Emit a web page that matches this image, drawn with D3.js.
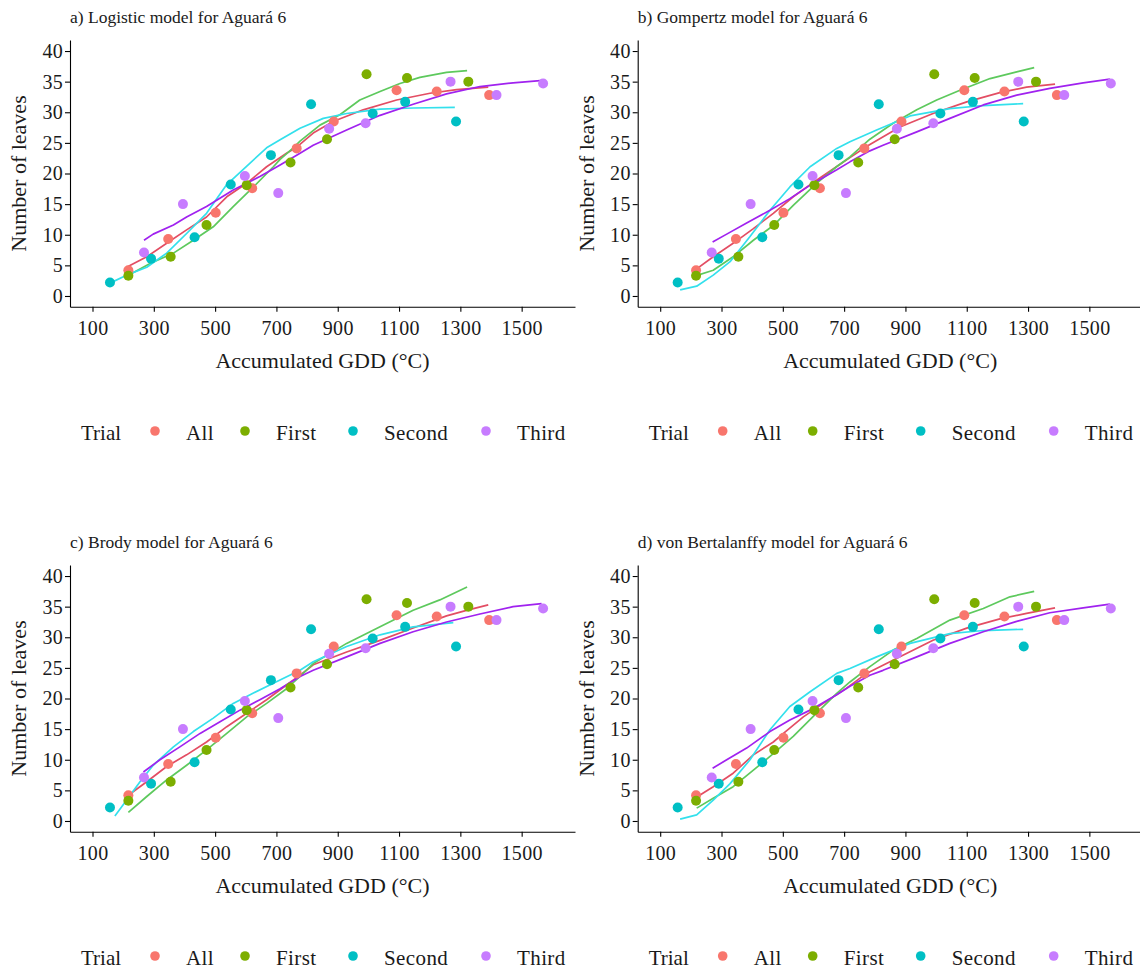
<!DOCTYPE html>
<html>
<head>
<meta charset="utf-8">
<script src="https://cdn.jsdelivr.net/npm/d3@7"></script>
<style>
  body { margin: 0; background: #fff; }
  svg text { font-family: "Liberation Serif", "Times New Roman", serif; fill: #1a1a1a; }
  .axis path, .axis line { stroke: #000; stroke-width: 1.1; }
</style>
</head>
<body>
<svg id="chart" width="1140" height="979"></svg>
<script>
const trials = ["All", "First", "Second", "Third"];
const pointColors = ["#F8766D", "#7CAE00", "#00BFC4", "#C77CFF"];
const lineColors = ["#E34D63", "#5DC95D", "#33E0EC", "#A022EF"];
const xTicks = [100, 300, 500, 700, 900, 1100, 1300, 1500];
const yTicks = [0, 5, 10, 15, 20, 25, 30, 35, 40];

// observed leaves per trial: [GDD, leaves]
const allObs = [[217, 4.2], [347, 9.3], [502, 13.6], [621, 17.6], [766, 24.1], [887, 28.5], [1092, 33.6], [1223, 33.4], [1394, 32.8]];
const firstObs = [[217, 3.3], [355, 6.4], [472, 11.6], [603, 18.1], [746, 21.8], [865, 25.6], [994, 36.2], [1126, 35.6], [1326, 35.0]];
const secondObs = [[157, 2.2], [291, 6.1], [433, 9.6], [551, 18.2], [682, 23.0], [813, 31.3], [1014, 29.8], [1120, 31.7], [1286, 28.5]];
const thirdObs = [[268, 7.1], [395, 15.0], [597, 19.6], [706, 16.8], [872, 27.3], [991, 28.2], [1268, 35.0], [1418, 32.8], [1570, 34.7]];

// fitted curves
const logisticAll = [[211, 4.7], [277, 6.4], [342, 8.6], [407, 10.8], [472, 12.9], [538, 16.2], [603, 18.4], [668, 21.1], [733, 23.3], [766, 24.3], [820, 26.6], [885, 28.5], [983, 30.4], [1092, 32.0], [1201, 33.1], [1288, 33.7], [1391, 34.1]];
const logisticFirst = [[217, 3.4], [288, 5.3], [364, 7.0], [429, 9.1], [494, 11.3], [559, 14.6], [625, 17.8], [690, 21.1], [712, 22.3], [755, 24.2], [777, 25.3], [842, 27.9], [907, 29.6], [972, 32.0], [1038, 33.4], [1103, 34.7], [1168, 35.7], [1255, 36.5], [1322, 36.8]];
const logisticSecond = [[157, 2.1], [211, 3.4], [277, 4.7], [342, 7.0], [407, 10.2], [472, 13.5], [538, 18.2], [614, 21.7], [668, 24.2], [712, 25.5], [777, 27.4], [853, 29.0], [929, 29.8], [1038, 30.5], [1146, 30.7], [1282, 30.8]];
const logisticThird = [[268, 9.1], [298, 10.1], [364, 11.6], [407, 12.9], [472, 14.6], [559, 17.3], [646, 19.5], [712, 21.4], [777, 23.3], [820, 24.6], [929, 27.1], [1038, 29.5], [1146, 31.3], [1255, 33.0], [1364, 34.2], [1472, 34.8], [1570, 35.2]];

const gompertzAll = [[210, 4.1], [273, 6.4], [338, 8.6], [404, 11.0], [469, 13.5], [534, 16.2], [610, 18.9], [675, 21.1], [719, 22.6], [773, 24.4], [882, 27.6], [990, 29.8], [1100, 31.7], [1208, 33.2], [1295, 34.1], [1388, 34.6]];
const gompertzFirst = [[210, 3.2], [273, 4.2], [338, 6.4], [404, 9.1], [469, 11.5], [534, 14.8], [610, 18.4], [675, 21.1], [719, 22.7], [784, 25.6], [860, 28.2], [937, 30.4], [1002, 32.0], [1078, 33.6], [1176, 35.5], [1263, 36.6], [1320, 37.3]];
const gompertzSecond = [[165, 1.0], [219, 1.6], [273, 3.4], [328, 5.6], [393, 9.7], [458, 14.0], [523, 17.8], [589, 21.1], [676, 24.1], [719, 25.2], [806, 27.1], [915, 29.4], [1045, 30.6], [1154, 31.1], [1284, 31.4]];
const gompertzThird = [[271, 8.8], [317, 10.1], [382, 11.9], [458, 14.0], [523, 15.9], [589, 18.1], [676, 20.6], [719, 21.9], [784, 23.7], [827, 24.6], [937, 26.8], [1045, 29.0], [1154, 31.2], [1263, 32.8], [1371, 33.9], [1480, 34.8], [1567, 35.4]];

const brodyAll = [[211, 4.0], [277, 6.4], [342, 8.9], [407, 10.8], [472, 12.9], [538, 15.4], [603, 17.6], [668, 19.8], [733, 22.2], [777, 23.8], [820, 25.5], [929, 27.6], [1038, 29.5], [1146, 31.5], [1255, 33.5], [1320, 34.4], [1391, 35.3]];
const brodyFirst = [[217, 1.4], [277, 4.0], [342, 6.7], [407, 9.1], [472, 11.6], [538, 14.3], [603, 17.0], [668, 19.2], [733, 21.6], [777, 23.6], [820, 25.7], [929, 29.0], [1038, 31.7], [1146, 34.4], [1233, 36.1], [1322, 38.2]];
const brodySecond = [[173, 0.8], [211, 3.4], [255, 6.4], [298, 9.1], [364, 12.1], [429, 14.6], [494, 16.8], [559, 19.2], [625, 20.9], [690, 22.5], [777, 24.6], [820, 26.0], [929, 28.5], [1038, 30.4], [1146, 31.7], [1277, 32.4]];
const brodyThird = [[266, 8.0], [320, 10.0], [385, 12.1], [451, 14.3], [516, 16.2], [581, 18.1], [646, 19.8], [712, 21.6], [777, 23.6], [820, 24.6], [929, 26.8], [1038, 29.0], [1146, 30.9], [1255, 32.5], [1364, 33.8], [1472, 35.0], [1565, 35.5]];

const bertalanffyAll = [[213, 3.7], [273, 5.6], [338, 7.8], [404, 10.8], [469, 12.9], [502, 14.3], [567, 17.0], [632, 19.2], [708, 21.7], [773, 24.1], [882, 26.8], [990, 29.5], [1100, 31.5], [1208, 33.0], [1295, 33.9], [1388, 34.8]];
const bertalanffyFirst = [[219, 2.1], [273, 3.7], [338, 5.6], [404, 8.3], [469, 11.0], [534, 13.8], [610, 17.6], [675, 20.8], [719, 22.7], [784, 25.2], [860, 27.9], [937, 29.8], [1045, 32.8], [1154, 34.7], [1241, 36.6], [1320, 37.5]];
const bertalanffySecond = [[165, 0.3], [219, 1.0], [273, 3.4], [328, 6.1], [393, 10.0], [458, 14.9], [523, 18.7], [589, 21.1], [676, 24.1], [719, 24.9], [806, 26.8], [915, 29.0], [1045, 30.6], [1154, 31.1], [1284, 31.3]];
const bertalanffyThird = [[271, 8.6], [317, 10.0], [382, 11.9], [458, 14.6], [523, 16.5], [589, 18.1], [676, 20.6], [719, 22.0], [784, 23.8], [827, 24.6], [937, 26.8], [1045, 29.0], [1154, 30.9], [1263, 32.6], [1371, 34.0], [1480, 34.8], [1567, 35.4]];

const observed = [allObs, firstObs, secondObs, thirdObs];
const panels = [
  { title: "a) Logistic model for Aguará 6", dx: 0, dy: 0, fits: [logisticAll, logisticFirst, logisticSecond, logisticThird] },
  { title: "b) Gompertz model for Aguará 6", dx: 567.7, dy: 0, fits: [gompertzAll, gompertzFirst, gompertzSecond, gompertzThird] },
  { title: "c) Brody model for Aguará 6", dx: 0, dy: 525, fits: [brodyAll, brodyFirst, brodySecond, brodyThird] },
  { title: "d) von Bertalanffy model for Aguará 6", dx: 567.7, dy: 525, fits: [bertalanffyAll, bertalanffyFirst, bertalanffySecond, bertalanffyThird] },
];

const svg = d3.select("#chart");
const x = d3.scaleLinear().domain([26.6, 1674]).range([70, 575]);
const y = d3.scaleLinear().domain([-1.75, 41.8]).range([306.7, 40]);
const line = d3.line().x((d) => x(d[0])).y((d) => y(d[1]));

panels.forEach((p) => {
  const g = svg.append("g").attr("transform", `translate(${p.dx},${p.dy})`);

  g.append("text")
    .attr("x", 70)
    .attr("y", 23)
    .style("font-size", "17.5px")
    .text(p.title);

  // axes
  const xAxis = g.append("g")
    .attr("class", "axis")
    .attr("transform", "translate(0,306.7)")
    .call(d3.axisBottom(x).tickValues(xTicks).tickFormat(d3.format("d")).tickSize(5).tickPadding(9).tickSizeOuter(0));
  xAxis.selectAll("text").style("font-size", "20px").style("letter-spacing", "0.3px").attr("fill", "#1a1a1a");

  const yAxis = g.append("g")
    .attr("class", "axis")
    .attr("transform", "translate(70,0)")
    .call(d3.axisLeft(y).tickValues(yTicks).tickSize(5).tickPadding(2).tickSizeOuter(0));
  yAxis.selectAll("text").style("font-size", "20px").style("letter-spacing", "0.3px").attr("fill", "#1a1a1a");

  g.append("text")
    .attr("x", (x.range()[0] + x.range()[1]) / 2)
    .attr("y", 368)
    .attr("text-anchor", "middle")
    .style("font-size", "22px")
    .text("Accumulated GDD (°C)");

  g.append("text")
    .attr("transform", "translate(26,173.5) rotate(-90)")
    .attr("text-anchor", "middle")
    .style("font-size", "22px")
    .text("Number of leaves");

  // fitted lines
  p.fits.forEach((f, i) => {
    g.append("path")
      .datum(f)
      .attr("d", line)
      .attr("fill", "none")
      .attr("stroke", lineColors[i])
      .attr("stroke-width", 1.7)
      .attr("stroke-linejoin", "round");
  });

  // observed points
  observed.forEach((obs, i) => {
    g.append("g")
      .selectAll("circle")
      .data(obs)
      .enter()
      .append("circle")
      .attr("cx", (d) => x(d[0]))
      .attr("cy", (d) => y(d[1]))
      .attr("r", 5)
      .attr("fill", pointColors[i]);
  });

  // legend
  const legend = g.append("g").attr("transform", "translate(0,433)");
  legend.append("text")
    .attr("x", 81)
    .attr("y", 7)
    .style("font-size", "21px")
    .text("Trial");
  const dotX = [155, 245, 353, 486];
  trials.forEach((t, i) => {
    legend.append("circle")
      .attr("cx", dotX[i])
      .attr("cy", -2)
      .attr("r", 4.8)
      .attr("fill", pointColors[i]);
    legend.append("text")
      .attr("x", dotX[i] + 31)
      .attr("y", 7)
      .style("font-size", "21px")
      .style("letter-spacing", "0.4px")
      .text(t);
  });
});
</script>
</body>
</html>
